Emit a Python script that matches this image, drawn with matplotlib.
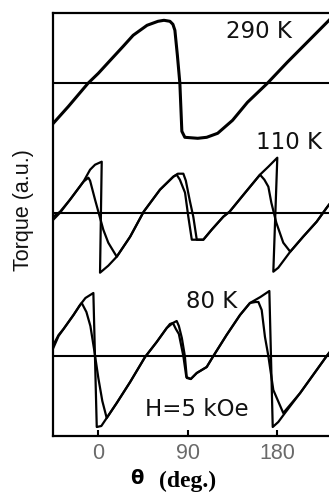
import matplotlib
matplotlib.use("Agg")
import matplotlib.pyplot as plt

# ---------------- data (torque in arbitrary units, relative to each baseline) ----------------
theta_290 = [-45.3, -30, -10.4, 0, 12, 25, 35, 49, 60, 66, 72, 75, 77, 79.5, 82, 84, 87,
             100, 109, 120, 135, 150, 170, 190, 210, 232]
torque_290 = [-40, -23, 0, 10, 23, 37, 48, 58, 62, 63, 62, 59, 53, 28, 0, -48, -54,
              -55, -54, -50, -37, -19, 0, 21, 41, 63]

theta_110_a = [-45.3, -38.5, -28.5, -15, -8.3, -3.3, 3.4, 1.7, 10, 18.5, 32, 45.6, 62, 75.4,
               80, 85.5, 88, 92, 95.5, 99, 105.6, 114, 125.7, 132, 146, 162.6, 171, 180,
               176, 181, 187, 193, 206, 219.6, 229.7, 232]
torque_110_a = [-7, 0, 13, 31, 43, 48, 51, -60, -53, -44, -24, 1, 23, 36,
                39, 39, 32, 12, -4, -27, -27, -17, -4, 1, 18, 38, 46, 55,
                -59, -55, -47, -39, -24, -9, 5, 8]

theta_110_b = [-45.3, -38.5, -28.5, -15, -10, -8.3, -3.3, 5, 10, 18.5, 32, 45.6, 62, 75.4,
               78.8, 82, 87.2, 90.5, 94, 105.6, 114, 125.7, 132, 146, 162.6, 167, 171,
               174, 179, 186, 193, 206, 219.6, 229.7, 232]
torque_110_b = [-4, 1, 13, 31, 35, 32, 13, -17, -30, -44, -24, 1, 23, 36,
                38, 33, 20, -4, -27, -27, -17, -4, 1, 18, 38, 33, 26,
                10, -10, -30, -39, -24, -9, 5, 8]

theta_80_a = [-45.3, -40, -35, -25, -18.4, -13, -6.6, -5, -1.6, 3, 8.4, 18.5, 32, 47, 58.7,
              68.8, 75, 78.8, 81, 84, 87, 89, 93, 99, 109, 115.7, 129, 142.5, 152.5, 163,
              172, 175.4, 181, 187.7, 203, 219.6, 229.7, 232]
torque_80_a = [8, 20, 27, 41, 51, 58, 62, 63, -71, -70, -62, -47, -26, -1, 14,
               28, 33, 35, 30, 18, 0, -22, -23, -17, -11, 0, 21, 41, 53, 59,
               65, -71, -66, -57, -37, -14, 0, 3]

theta_80_b = [-45.3, -40, -35, -25, -18.4, -16.7, -12, -8, -4, 0, 4, 8.4, 18.5, 32, 47, 58.7,
              68.8, 72, 75, 78, 81, 85.5, 88.5, 93, 99, 109, 115.7, 129, 142.5, 152.5, 158,
              161, 164.3, 167.6, 171, 176, 186, 203, 219.6, 229.7, 232]
torque_80_b = [11, 21, 27, 41, 51, 53, 44, 30, 5, -22, -45, -62, -47, -26, -1, 14,
               28, 32, 33, 27, 22, 0, -21, -23, -17, -11, 0, 21, 41, 53, 54,
               54, 46, 19, 0, -34, -57, -37, -14, 0, 3]

temperature_labels = ["290 K", "110 K", "80 K"]
baselines = [352.7, 223.3, 80.0]
field_label = "H=5 kOe"
x_ticks = [0, 90, 180]
x_ticklabels = ["0", "90", "180"]

# ---------------- figure ----------------
W, H = 329, 493
fig = plt.figure(figsize=(W / 100, H / 100), dpi=100)
ax = fig.add_axes([53.3 / W, (H - 436) / H, (W - 53.3) / W, (436 - 12.7) / H])
ax.set_xlim(-45.3, 232)
ax.set_ylim(0, 423.3)

for b in baselines:
    ax.axhline(b, color="black", lw=1.5, zorder=1)

def shifted(vals, off):
    return [v + off for v in vals]

ax.plot(theta_290, shifted(torque_290, baselines[0]), color="black", lw=2.2,
        solid_joinstyle="round", zorder=2)
for th, tq in [(theta_110_a, torque_110_a), (theta_110_b, torque_110_b)]:
    ax.plot(th, shifted(tq, baselines[1]), color="black", lw=1.6,
            solid_joinstyle="round", zorder=2)
for th, tq in [(theta_80_a, torque_80_a), (theta_80_b, torque_80_b)]:
    ax.plot(th, shifted(tq, baselines[2]), color="black", lw=1.6,
            solid_joinstyle="round", zorder=2)

# in-plot labels (figure pixel positions)
def ftext(px, py, s, **kw):
    fig.text(px / W, 1 - py / H, s, ha="center", va="center", **kw)

lab_font = dict(family="DejaVu Sans", fontsize=16.5, color="#111111")
ftext(259, 31, temperature_labels[0], **lab_font)
ftext(289, 142, temperature_labels[1], **lab_font)
ftext(212, 302, temperature_labels[2], **lab_font)
ftext(197, 410, field_label, **lab_font)

# axes styling
ax.spines["right"].set_visible(False)
for s in ["left", "top", "bottom"]:
    ax.spines[s].set_linewidth(1.6)
ax.set_yticks([])
ax.set_xticks(x_ticks)
ax.set_xticklabels(x_ticklabels, family="Liberation Sans", fontsize=15.5, color="#6a6a6a")
ax.tick_params(axis="x", direction="in", length=4, width=1.5, pad=5)

# axis labels
ftext(23, 210, "Torque (a.u.)", family="Liberation Sans", fontsize=15.5,
      rotation=90, color="#111111")
ftext(137, 479, "θ", family="DejaVu Sans", fontsize=14, fontweight="bold")
ftext(188, 481, "(deg.)", family="Liberation Serif", fontsize=17, fontweight="bold")

fig.savefig("out.png", dpi=100)
